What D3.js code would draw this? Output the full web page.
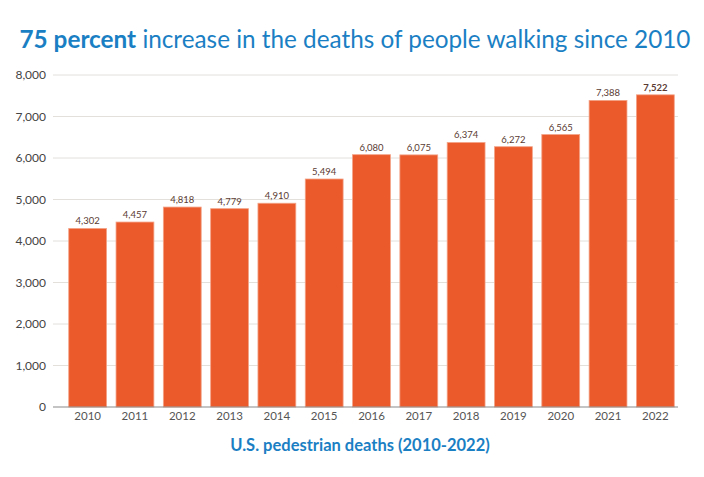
<!DOCTYPE html>
<html>
<head>
<meta charset="utf-8">
<script src="https://cdn.jsdelivr.net/npm/d3@7"></script>
<style>
  body { margin: 0; background: #fff; }
  text { font-family: Lato, "Open Sans", sans-serif; }
</style>
</head>
<body>
<div id="chart"></div>
<script>
// data
var years = ["2010","2011","2012","2013","2014","2015","2016","2017","2018","2019","2020","2021","2022"];
var deaths = [4302, 4457, 4818, 4779, 4910, 5494, 6080, 6075, 6374, 6272, 6565, 7388, 7522];
var yTicks = [0, 1000, 2000, 3000, 4000, 5000, 6000, 7000, 8000];

var W = 704, H = 477;

var svg = d3.select("#chart")
  .append("svg")
    .attr("width", W)
    .attr("height", H);

var x = d3.scaleBand()
  .domain(years)
  .range([64, 679])
  .paddingInner(0.2)
  .paddingOuter(0.1);

var y = d3.scaleLinear()
  .domain([0, 8000])
  .range([407, 75]);

// title
var title = svg.append("text")
  .attr("x", 355)
  .attr("y", 48)
  .attr("text-anchor", "middle")
  .attr("font-size", 24.3)
  .attr("fill", "#1b7fc4");
title.append("tspan").attr("font-weight", "bold").text("75 percent");
title.append("tspan").text(" increase in the deaths of people walking since 2010");

// gridlines
svg.selectAll(".grid")
  .data(yTicks.slice(1))
  .enter().append("line")
    .attr("x1", 53)
    .attr("x2", 678)
    .attr("y1", d => y(d))
    .attr("y2", d => y(d))
    .attr("stroke", "#e3e0dc")
    .attr("stroke-width", 1);

// y labels
svg.selectAll(".ylab")
  .data(yTicks)
  .enter().append("text")
    .attr("x", 46)
    .attr("y", d => y(d) + 4)
    .attr("text-anchor", "end")
    .attr("font-size", 12)
    .attr("fill", "#444")
    .text(d => d3.format(",")(d));

// bars
svg.selectAll(".bar")
  .data(deaths)
  .enter().append("rect")
    .attr("x", (d, i) => x(years[i]))
    .attr("y", d => y(d))
    .attr("width", x.bandwidth())
    .attr("height", d => y(0) - y(d))
    .attr("fill", "#eb5a2b")
    .attr("stroke", "#f3a388")
    .attr("stroke-width", 0.8);

// value labels
svg.selectAll(".val")
  .data(deaths)
  .enter().append("text")
    .attr("x", (d, i) => x(years[i]) + x.bandwidth() / 2)
    .attr("y", d => y(d) - 4)
    .attr("text-anchor", "middle")
    .attr("font-size", 9.5)
    .attr("font-weight", (d, i) => i == deaths.length - 1 ? "bold" : "normal")
    .attr("fill", "#5a3b33")
    .text(d => d3.format(",")(d));

// baseline
svg.append("line")
  .attr("x1", 53)
  .attr("x2", 678)
  .attr("y1", y(0))
  .attr("y2", y(0))
  .attr("stroke", "#8a8a8a")
  .attr("stroke-width", 1.2);

// x labels
svg.selectAll(".xlab")
  .data(years)
  .enter().append("text")
    .attr("x", d => x(d) + x.bandwidth() / 2)
    .attr("y", 420)
    .attr("text-anchor", "middle")
    .attr("font-size", 11.5)
    .attr("fill", "#555")
    .text(d => d);

// x axis title
svg.append("text")
  .attr("x", 360)
  .attr("y", 451)
  .attr("text-anchor", "middle")
  .attr("font-size", 16.5)
  .attr("font-weight", "bold")
  .attr("fill", "#1b7fc4")
  .text("U.S. pedestrian deaths (2010-2022)");
</script>
</body>
</html>
